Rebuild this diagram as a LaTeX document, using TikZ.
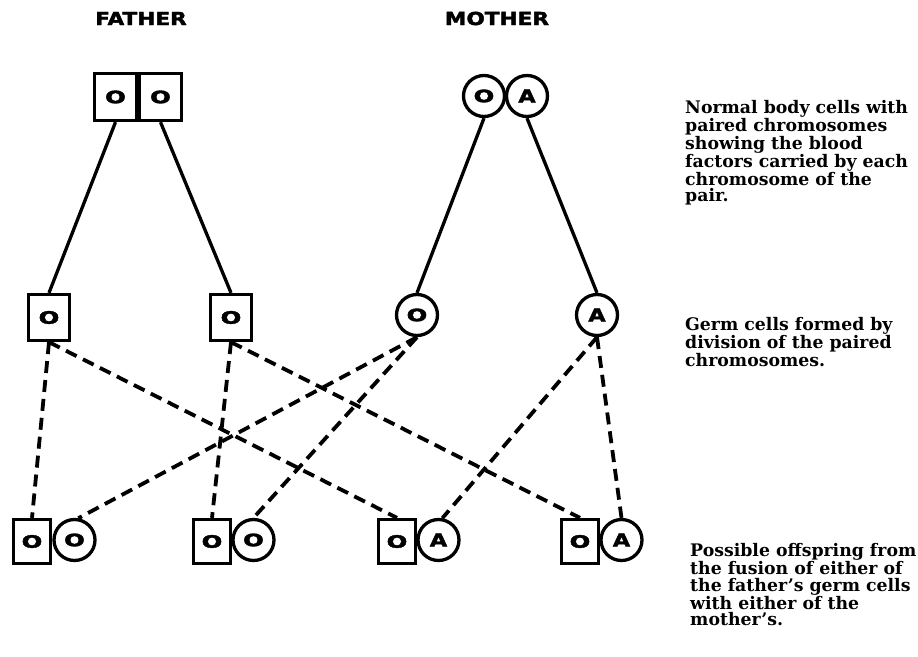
\documentclass[tikz,border=0pt]{standalone}
\usepackage{graphicx}
\usepackage{fontspec}
\newfontfamily\notefont{DejaVu Serif}
\newfontfamily\heavyfont{DejaVu Sans}[BoldFeatures={FakeBold=2}]
% blood-factor letters written inside the cells
\newcommand\facO{\scalebox{1.35}[0.95]{\heavyfont\bfseries\fontsize{18}{18}\selectfont O}}
\newcommand\facA{\scalebox{1.25}[1]{\heavyfont\bfseries\fontsize{18}{18}\selectfont A}}
\newcommand\parent[1]{\scalebox{1.2}[1]{\heavyfont\bfseries\fontsize{18}{18}\selectfont #1}}
\begin{document}
\begin{tikzpicture}[x=1pt,y=-1pt,
  topsq/.style={draw,line width=3.3pt,rectangle,inner sep=0pt,minimum width=42pt,minimum height=47pt},
  germsq/.style={draw,line width=3.3pt,rectangle,inner sep=0pt,minimum width=41pt,minimum height=46pt},
  kidsq/.style={draw,line width=3.3pt,rectangle,inner sep=0pt,minimum width=37pt,minimum height=44pt},
  cell/.style={draw,line width=3.3pt,circle,inner sep=0pt,minimum size=41pt},
  link/.style={line width=3.3pt},
  cross/.style={line width=3.8pt,dash pattern=on 12pt off 7pt},
  note/.style={anchor=north west,inner sep=0pt,align=left,
    font=\notefont\bfseries\fontsize{17.3}{16.7}\selectfont}]
\useasboundingbox (0,0) rectangle (918,656);

% headings
\node (fathead) at (141,18.5) {\parent{FATHER}};
\node (mothead) at (497,18.5) {\parent{MOTHER}};

% parents' body cells
\node[topsq] (fl) at (115.5,97) {\facO};
\node[topsq] (fr) at (160.5,97) {\facO};
\node[cell] (mo) at (484,96) {\facO};
\node[cell] (ma) at (527,96) {\facA};

% germ cells
\node[germsq] (g1) at (49,317.5) {\facO};
\node[germsq] (g2) at (231,317.5) {\facO};
\node[cell] (go) at (417,315) {\facO};
\node[cell] (ga) at (597,315) {\facA};

% offspring
\node[kidsq] (k1s) at (32,541.5) {\facO};
\node[cell]  (k1c) at (74.5,540) {\facO};
\node[kidsq] (k2s) at (212,541.5) {\facO};
\node[cell]  (k2c) at (253.5,540) {\facO};
\node[kidsq] (k3s) at (397,541.5) {\facO};
\node[cell]  (k3c) at (438.5,540) {\facA};
\node[kidsq] (k4s) at (580,541.5) {\facO};
\node[cell]  (k4c) at (621.5,540) {\facA};

% division of the paired chromosomes
\draw[link] (fl.south) -- (g1.north);
\draw[link] (fr.south) -- (g2.north);
\draw[link] (mo.south) -- (go.north);
\draw[link] (ma.south) -- (ga.north);

% fusion of germ cells
\draw[cross] (g1.south) -- (k1s.north);
\draw[cross] (g1.south) -- (k3s.north);
\draw[cross] (g2.south) -- (k2s.north);
\draw[cross] (g2.south) -- (k4s.north);
\draw[cross] (go.south) -- (k1c.80);
\draw[cross] (go.south) -- (k2c.north);
\draw[cross] (ga.south) -- (k3c.80);
\draw[cross] (ga.south) -- (k4c.north);

% explanations
\node[note] (n1) at (685,100) {Normal body cells with\\paired chromosomes\\showing the blood\\factors carried by each\\chromosome of the\\pair.};
\node[note] (n2) at (685,317) {Germ cells formed by\\division of the paired\\chromosomes.};
\node[note] (n3) at (690,543) {Possible offspring from\\the fusion of either of\\the father’s germ cells\\with either of the\\mother’s.};
\end{tikzpicture}
\end{document}
